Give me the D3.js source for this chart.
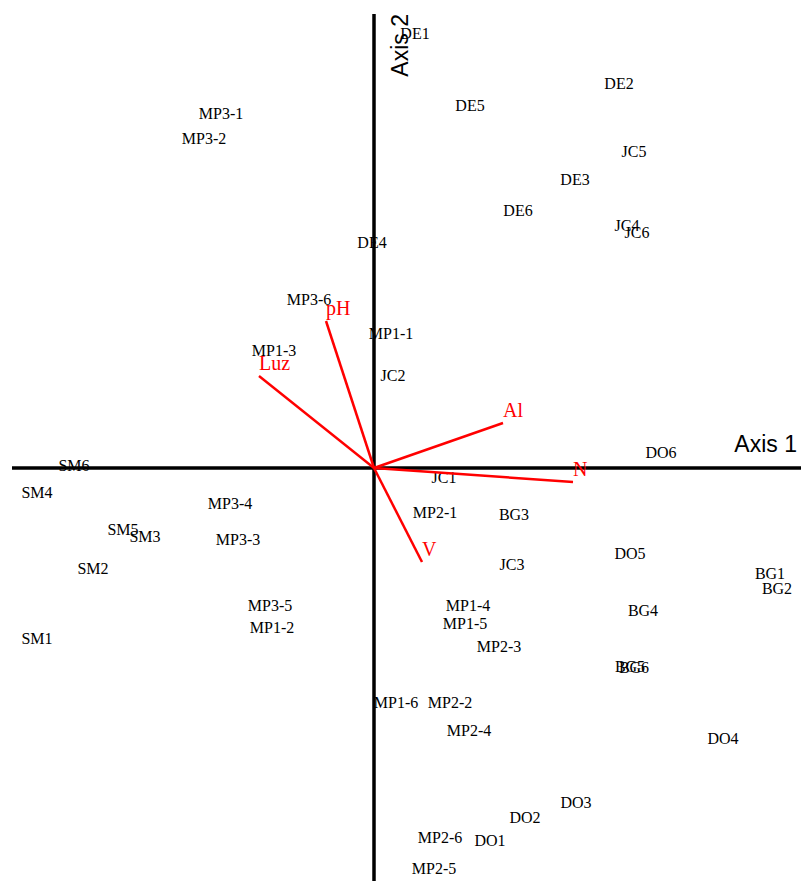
<!DOCTYPE html>
<html>
<head>
<meta charset="utf-8">
<script src="https://cdn.jsdelivr.net/npm/d3@7"></script>
<style>
  html, body { margin: 0; padding: 0; background: #fff; }
  svg { display: block; }
</style>
</head>
<body>
<div id="chart"></div>
<script>
// Site scores on the first two ordination axes
const siteNames = ["DE1","DE5","DE2","JC5","DE3","DE6","JC4","JC6","DE4","MP3-1","MP3-2","MP3-6","MP1-1","MP1-3","JC2","DO6","JC1","MP2-1","BG3","SM6","SM4","SM5","SM3","SM2","SM1","MP3-4","MP3-3","MP3-5","MP1-2","JC3","DO5","BG1","BG2","BG4","MP1-4","MP1-5","MP2-3","BG5","BG6","MP1-6","MP2-2","MP2-4","DO4","DO3","DO2","MP2-6","DO1","MP2-5"];
const siteAxis1 = [0.41,0.96,2.45,2.60,2.01,1.44,2.53,2.63,-0.02,-1.53,-1.70,-0.65,0.17,-1.00,0.19,2.87,0.70,0.61,1.40,-3.00,-3.37,-2.51,-2.29,-2.81,-3.37,-1.44,-1.36,-1.04,-1.02,1.38,2.56,3.96,4.03,2.69,0.94,0.91,1.25,2.56,2.60,0.22,0.76,0.95,3.49,2.02,1.51,0.66,1.16,0.60];
const siteAxis2 = [4.35,3.63,3.85,3.17,2.89,2.58,2.43,2.36,2.26,3.55,3.30,1.69,1.35,1.18,0.93,0.16,-0.09,-0.44,-0.46,0.03,-0.24,-0.61,-0.68,-1.00,-1.70,-0.35,-0.71,-1.37,-1.59,-0.96,-0.85,-1.05,-1.20,-1.42,-1.37,-1.55,-1.78,-1.98,-1.99,-2.34,-2.34,-2.62,-2.70,-3.34,-3.49,-3.69,-3.72,-4.00];

// Environmental vectors (biplot arrows)
const envNames = ["pH","Luz","Al","N","V"];
const envAxis1 = [-0.48,-1.15,1.29,1.99,0.48];
const envAxis2 = [1.47,0.92,0.45,-0.14,-0.94];

const axisTitles = ["Axis 1","Axis 2"];

const width = 801, height = 881;

const x = d3.scaleLinear().domain([-3.62, 4.27]).range([12, 801]);
const y = d3.scaleLinear().domain([-4.13, 4.54]).range([881, 14]);

const svg = d3.select("#chart").append("svg")
  .attr("width", width).attr("height", height);

const sites = siteNames.map((n, i) => ({ name: n, a1: siteAxis1[i], a2: siteAxis2[i] }));
const env = envNames.map((n, i) => ({ name: n, a1: envAxis1[i], a2: envAxis2[i] }));

// Site labels, centred on their scores
svg.append("g").selectAll("text").data(sites).join("text")
  .attr("x", d => x(d.a1))
  .attr("y", d => y(d.a2))
  .attr("dy", "0.35em")
  .attr("text-anchor", "middle")
  .attr("font-family", "'Liberation Serif', 'Times New Roman', serif")
  .attr("font-size", 16)
  .attr("fill", "#000")
  .text(d => d.name);

// Axes through the origin
const axes = svg.append("g").attr("stroke", "#000").attr("stroke-width", 3.5);
axes.append("line")
  .attr("x1", x.range()[0]).attr("x2", x.range()[1])
  .attr("y1", y(0)).attr("y2", y(0));
axes.append("line")
  .attr("x1", x(0)).attr("x2", x(0))
  .attr("y1", y.range()[1]).attr("y2", y.range()[0]);

svg.append("text")
  .attr("x", 797).attr("y", y(0) - 16)
  .attr("text-anchor", "end")
  .attr("font-family", "'Liberation Sans', Arial, sans-serif")
  .attr("font-size", 23)
  .text(axisTitles[0]);

svg.append("text")
  .attr("transform", `translate(${x(0) + 34},${14}) rotate(-90)`)
  .attr("text-anchor", "end")
  .attr("font-family", "'Liberation Sans', Arial, sans-serif")
  .attr("font-size", 23)
  .text(axisTitles[1]);

// Environmental arrows
svg.append("g").selectAll("line").data(env).join("line")
  .attr("x1", x(0)).attr("y1", y(0))
  .attr("x2", d => x(d.a1)).attr("y2", d => y(d.a2))
  .attr("stroke", "#ff0000")
  .attr("stroke-width", 2.5);

svg.append("g").selectAll("text").data(env).join("text")
  .attr("x", d => x(d.a1))
  .attr("y", d => y(d.a2) - 6)
  .attr("text-anchor", "start")
  .attr("font-family", "'Liberation Serif', 'Times New Roman', serif")
  .attr("font-size", 20)
  .attr("fill", "#ff0000")
  .text(d => d.name);
</script>
</body>
</html>
